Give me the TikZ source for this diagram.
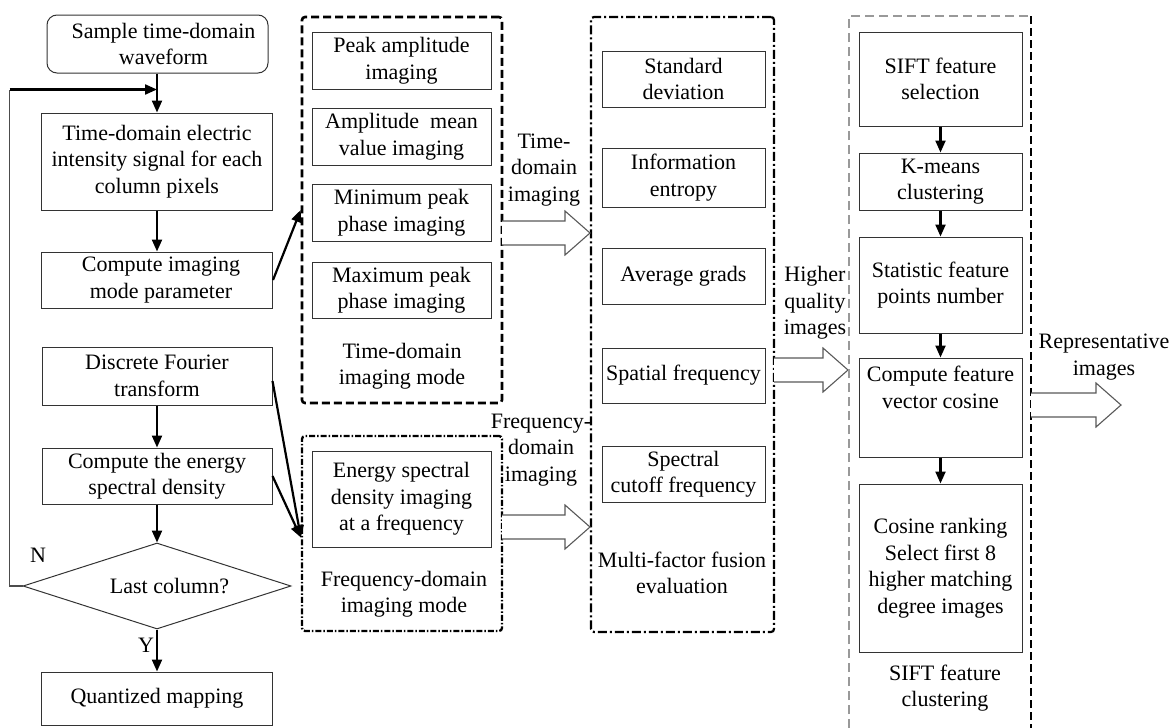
\documentclass[tikz,border=0pt]{standalone}
\usepackage{fontspec}
\setmainfont{Liberation Serif}
\usetikzlibrary{arrows.meta,shapes.geometric,calc}
\newcommand\myfs{\fontsize{22}{26.5}\selectfont}
\newcommand\myblockarrow[3]{%
  \draw[line width=1.1pt, draw=black!65, fill=white]
    (#1,#3-12) -- (#2-25,#3-12) -- (#2-25,#3-22) -- (#2,#3)
    -- (#2-25,#3+22) -- (#2-25,#3+12) -- (#1,#3+12);}
\begin{document}
\begin{tikzpicture}[x=1pt,y=-1pt,
  box/.style={draw=black!80, line width=1pt, align=center, inner sep=0pt, font=\myfs},
  lbl/.style={align=center, inner sep=0pt, font=\myfs},
  arr/.style={-{Triangle[length=12pt,width=10pt]}, line width=2.2pt},
  tdbox/.style={draw, line width=2.6pt, dash pattern=on 8pt off 4pt, rounded corners=3pt},
  fdbox/.style={draw, line width=2.3pt, dash pattern=on 6pt off 2pt on 1.5pt off 2pt, rounded corners=3pt},
  mfbox/.style={draw, line width=2.2pt, dash pattern=on 9pt off 3pt on 2pt off 3pt, rounded corners=3pt}]
\useasboundingbox (0,0) rectangle (1175,728);

% ---------- left column ----------
\node[box, rounded corners=10pt, minimum width=221pt, minimum height=58pt] (s) at (157.5,44) {\hspace*{12pt}Sample time-domain\\\hspace*{12pt}waveform};
\node[box, minimum width=231pt, minimum height=97pt] (b2) at (157,161.5) {Time-domain electric\\intensity signal for each\\column pixels};
\node[box, minimum width=231pt, minimum height=56pt] (b3) at (157,280) {\hspace*{8pt}Compute imaging\\\hspace*{8pt}mode parameter};
\node[box, minimum width=230pt, minimum height=58pt] (b4) at (157,376) {Discrete Fourier\\transform};
\node[box, minimum width=230pt, minimum height=56pt] (b5) at (157,476) {Compute the energy\\spectral density};
\node[draw=black!80, line width=1pt, diamond, aspect=3.1, minimum width=268pt, minimum height=86pt, inner sep=0pt, font=\myfs] (dia) at (157,586) {\hspace*{25pt}Last column?};
\node[box, minimum width=231pt, minimum height=53pt] (b6) at (157,698.5) {Quantized mapping};
\node[lbl] (nl) at (38,555) {N};
\node[lbl] (yl) at (146,645) {Y};

\coordinate (j) at ($(b2.north)+(0,-23)$);
\draw[arr] (b2.north |- s.south) -- (b2.north);
\draw[arr] (b2.south) -- (b3.north);
\draw[arr] (b4.south) -- (b5.north);
\draw[arr] (b5.south) -- (dia.north);
\draw[arr] (dia.south) -- (b6.north);
\draw[line width=1.4pt, draw=black!70] (dia.west) -- ++(-13,0) coordinate (lc) -- (lc |- j);
\draw[arr] (lc |- j) -- (j);

% ---------- time-domain imaging mode ----------
\node[tdbox, minimum width=200pt, minimum height=386pt] (tdm) at (402,210) {};
\node[box, minimum width=179pt, minimum height=57pt] (p1) at (401.5,60.5) {Peak amplitude\\imaging};
\node[box, minimum width=179pt, minimum height=57pt] (p2) at (401.5,136.5) {Amplitude~ mean\\value imaging};
\node[box, minimum width=179pt, minimum height=57pt] (p3) at (401.5,212.5) {Minimum peak\\phase imaging};
\node[box, minimum width=179pt, minimum height=56pt] (p4) at (401.5,290) {Maximum peak\\phase imaging};
\node[lbl] (tdl) at (402,366) {Time-domain\\imaging mode};

% ---------- frequency-domain imaging mode ----------
\node[fdbox, minimum width=200pt, minimum height=195pt] (fdm) at (402,533.5) {};
\node[box, minimum width=179pt, minimum height=96pt] (e1) at (401.5,499) {Energy spectral\\density imaging\\at a frequency};
\node[lbl] (fdl) at (404,594) {Frequency-domain\\imaging mode};

\draw[arr] (b3.east) -- (tdm.west);
\draw[arr] ($(b4.east)+(0,5)$) -- ($(fdm.west)+(0,4)$);
\draw[arr] (b5.east) -- ($(fdm.west)+(0,4)$);

% ---------- multi-factor fusion evaluation ----------
\node[mfbox, minimum width=183pt, minimum height=615pt] (mf) at (682.5,324.5) {};
\node[box, minimum width=163pt, minimum height=56pt] (m1) at (683.5,79) {Standard\\deviation};
\node[box, minimum width=163pt, minimum height=59pt] (m2) at (683.5,177.5) {Information\\entropy};
\node[box, minimum width=163pt, minimum height=56pt] (m3) at (683.5,276) {Average grads};
\node[box, minimum width=163pt, minimum height=55pt] (m4) at (683.5,375.5) {Spatial frequency};
\node[box, minimum width=163pt, minimum height=56pt] (m5) at (683.5,474) {Spectral\\cutoff frequency};
\node[lbl] (mfl) at (682,573) {Multi-factor fusion\\evaluation};

% block arrows and their labels
\myblockarrow{502}{590}{233}
\node[lbl] (tdi) at (544,170) {Time-\\domain\\imaging};
\myblockarrow{502}{590}{527}
\node[lbl] (fdi) at (541,450) {Frequency-\\domain\\imaging};
\myblockarrow{774}{848}{370}
\node[lbl] (hq) at (815,303) {Higher\\quality\\images};

% ---------- SIFT feature clustering ----------
\draw[line width=1.6pt, draw=black!40, dash pattern=on 9pt off 5pt] (849,728) -- (849,16) -- (1031,16);
\draw[line width=1.3pt, dash pattern=on 8pt off 4pt] (1031,16) -- (1031,728);
\node[box, minimum width=163pt, minimum height=94pt] (f1) at (940.5,79) {SIFT feature\\selection};
\node[box, minimum width=163pt, minimum height=57pt] (f2) at (940.5,181.5) {K-means\\clustering};
\node[box, minimum width=163pt, minimum height=96pt] (f3) at (940.5,285) {Statistic feature\\points number};
\node[box, minimum width=163pt, minimum height=99pt] (f4) at (940.5,407.5) {Compute feature\\vector cosine\\[14pt]};
\node[box, minimum width=163pt, minimum height=168pt] (f5) at (940.5,568) {Cosine ranking\\Select first 8\\higher matching\\degree images};
\node[lbl] (sfl) at (945,688) {SIFT feature\\clustering};
\draw[arr] (f1.south) -- (f2.north);
\draw[arr] (f2.south) -- (f3.north);
\draw[arr] (f3.south) -- (f4.north);
\draw[arr] (f4.south) -- (f5.north);

\myblockarrow{1031}{1121}{405}
\node[lbl] (rep) at (1104,357) {Representative\\images};
\end{tikzpicture}
\end{document}
